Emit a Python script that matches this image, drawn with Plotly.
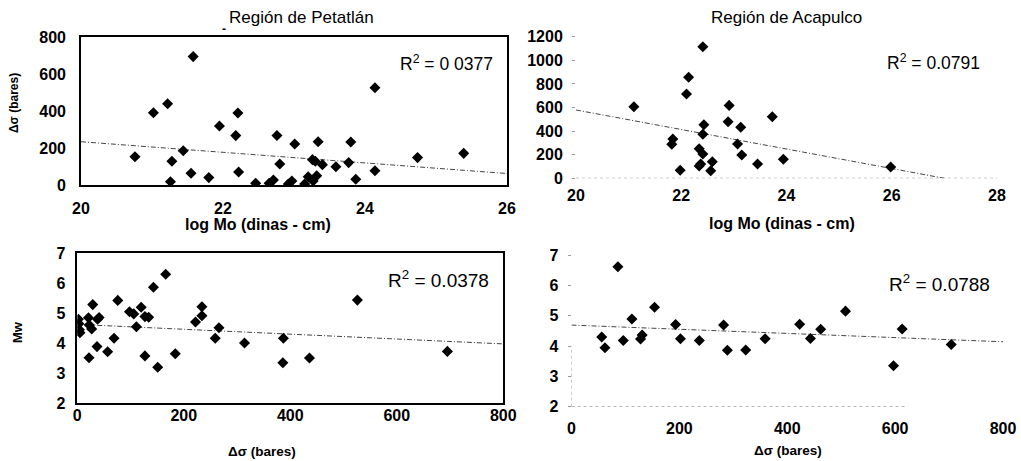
import plotly.graph_objects as go

# ---------------- data ----------------
# Región de Petatlán: log Mo vs Δσ
pet_logmo = [20.76, 21.02, 21.22, 21.28, 21.26, 21.44, 21.58, 21.55, 21.80, 21.95,
             22.21, 22.18, 22.22, 22.46, 22.65, 22.71, 22.76, 22.80, 22.92, 22.97,
             23.01, 23.15, 23.20, 23.26, 23.30, 23.27, 23.32, 23.34, 23.40, 23.59,
             23.77, 23.80, 23.87, 24.14, 24.14, 24.74, 25.39]
pet_dsigma = [153, 391, 439, 128, 18, 185, 694, 63, 40, 319,
              389, 267, 70, 9, 9, 27, 268, 114, 5, 22,
              222, 5, 45, 137, 128, 22, 50, 234, 110, 99,
              121, 232, 31, 526, 77, 148, 171]
pet_trend_x = [20, 26]
pet_trend_y = [234, 62]

# Región de Acapulco: log Mo vs Δσ
aca_logmo = [21.10, 21.84, 21.82, 21.98, 22.10, 22.14, 22.41, 22.43, 22.41, 22.34,
             22.41, 22.34, 22.37, 22.59, 22.56, 22.91, 22.89, 23.07, 23.13, 23.15,
             23.45, 23.73, 23.94, 25.98]
aca_dsigma = [607, 333, 288, 68, 714, 856, 1115, 454, 373, 251,
              206, 104, 121, 141, 64, 618, 480, 291, 432, 197,
              121, 522, 161, 96]
aca_trend_x = [20, 27]
aca_trend_y = [579, 0]

# Petatlán: Δσ vs Mw
pet_ds = [2, 3, 4, 5, 21, 22.5, 27, 29, 22, 38, 41, 37, 57, 69, 76, 98, 106, 111,
          120, 127, 127, 134, 143, 151, 166, 184, 222, 234, 234, 259, 266, 314,
          387, 386, 436, 526, 695]
pet_mw = [4.80, 4.65, 4.45, 4.35, 4.85, 4.61, 4.48, 5.29, 3.52, 4.80, 4.86, 3.89,
          3.72, 4.17, 5.43, 5.05, 4.98, 4.55, 5.20, 3.58, 4.89, 4.87, 5.87, 3.20,
          6.30, 3.65, 4.71, 4.92, 5.22, 4.17, 4.52, 4.01, 4.17, 3.35, 3.51, 5.44, 3.73]
pet_mw_trend_x = [0, 800]
pet_mw_trend_y = [4.63, 3.98]

# Acapulco: Δσ vs Mw
aca_ds = [56, 62, 86, 96, 112, 128, 131, 154, 193, 202, 237, 282, 289, 323, 359,
          423, 443, 462, 508, 597, 613, 704]
aca_mw = [4.30, 3.94, 6.61, 4.18, 4.89, 4.23, 4.36, 5.28, 4.71, 4.24, 4.18, 4.69,
          3.86, 3.87, 4.24, 4.72, 4.25, 4.55, 5.15, 3.35, 4.56, 4.05]
aca_mw_trend_x = [0, 800]
aca_mw_trend_y = [4.69, 4.14]

titles = ["Región de Petatlán", "Región de Acapulco"]
r2_labels = ["R<sup>2</sup> = 0 0377", "R<sup>2</sup> = 0.0791",
             "R<sup>2</sup> = 0.0378", "R<sup>2</sup> = 0.0788"]

# ---------------- layout helpers ----------------
W, H = 1021, 461
FONT = "Liberation Sans, Arial, sans-serif"


def fx(p):
    return p / W


def fy(p):
    return 1 - p / H


fig = go.Figure()

marker = dict(symbol="diamond", size=8.5, color="black")
trend_line = dict(color="#444444", width=1, dash="5px,2px,1px,2px")

series = [
    (pet_logmo, pet_dsigma, pet_trend_x, pet_trend_y, "x", "y"),
    (aca_logmo, aca_dsigma, aca_trend_x, aca_trend_y, "x2", "y2"),
    (pet_ds, pet_mw, pet_mw_trend_x, pet_mw_trend_y, "x3", "y3"),
    (aca_ds, aca_mw, aca_mw_trend_x, aca_mw_trend_y, "x4", "y4"),
]
for xs, ys, tx, ty, xa, ya in series:
    fig.add_trace(go.Scatter(x=tx, y=ty, mode="lines", line=trend_line,
                             xaxis=xa, yaxis=ya, showlegend=False, hoverinfo="skip"))
    fig.add_trace(go.Scatter(x=xs, y=ys, mode="markers", marker=marker,
                             xaxis=xa, yaxis=ya, showlegend=False))

tickfont = dict(family=FONT, size=16, color="black", weight="bold")


def axis(domain, rng, tickvals, anchor, boxed, standoff):
    d = dict(domain=domain, range=rng, tickvals=tickvals, anchor=anchor,
             showgrid=False, zeroline=False, tickfont=tickfont, fixedrange=True,
             automargin=False, ticklabelstandoff=standoff)
    if boxed:
        d.update(showline=True, mirror=True, linecolor="black", linewidth=1.6, ticks="")
    else:
        d.update(showline=False, ticks="")
    return d


fig.update_layout(
    template="none",
    width=W, height=H,
    margin=dict(l=0, r=0, t=0, b=0, pad=0),
    paper_bgcolor="white", plot_bgcolor="white",
    xaxis=axis([fx(81), fx(507)], [20, 26], [20, 22, 24, 26], "y", True, 8),
    yaxis=axis([fy(185), fy(37)], [0, 800], [0, 200, 400, 600, 800], "x", True, 10),
    xaxis2=axis([fx(576), fx(997)], [20, 28], [20, 22, 24, 26, 28], "y2", False, 6),
    yaxis2=axis([fy(178.3), fy(36.7)], [0, 1200], [0, 200, 400, 600, 800, 1000, 1200], "x2", False, 6),
    xaxis3=axis([fx(77.3), fx(503.3)], [0, 800], [0, 200, 400, 600, 800], "y3", True, -3),
    yaxis3=axis([fy(403.3), fy(253.3)], [2, 7], [2, 3, 4, 5, 6, 7], "x3", True, 7),
    xaxis4=axis([fx(571.5), fx(1003)], [0, 800], [0, 200, 400, 600, 800], "y4", False, 10),
    yaxis4=axis([fy(406.7), fy(255)], [2, 7], [2, 3, 4, 5, 6, 7], "x4", False, 6),
)
fig.update_layout(
    yaxis2=dict(ticks="outside", ticklen=3, tickcolor="#999999"),
    yaxis4=dict(ticks="outside", ticklen=3, tickcolor="#999999"),
)

# faint dotted axis lines of the unframed charts
fig.add_shape(type="line", xref="x2", yref="y2", x0=20, x1=28, y0=0, y1=0,
              line=dict(color="#888888", width=1, dash="dot"))
fig.add_shape(type="line", xref="x4", yref="y4", x0=0, x1=620, y0=2, y1=2,
              line=dict(color="#888888", width=1, dash="dot"))
fig.add_shape(type="line", xref="x4", yref="y4", x0=0, x1=0, y0=2, y1=4,
              line=dict(color="#999999", width=1, dash="dot"))

ann = []


def text(x, y, s, size=12, bold=True, angle=0, xanchor="center"):
    ann.append(dict(x=fx(x), y=fy(y), xref="paper", yref="paper", text=s,
                    showarrow=False, textangle=angle, xanchor=xanchor, yanchor="middle",
                    font=dict(family=FONT, size=size, color="black",
                              weight="bold" if bold else "normal")))


text(301, 17, titles[0], size=17, bold=False)
text(786, 17, titles[1], size=17, bold=False)
text(224, 29, "-", size=12)
text(258, 224, "log Mo (dinas - cm)", size=16)
text(782, 223, "log Mo (dinas - cm)", size=16)
text(262, 451, "Δσ (bares)", size=13.5)
text(788, 450, "Δσ (bares)", size=13.5)
text(14, 103, "Δσ (bares)", size=12, angle=-90)
text(17, 332, "Mw", size=13, angle=-90)

text(446, 63, r2_labels[0], size=17.5, bold=False)
text(933, 62, r2_labels[1], size=17.5, bold=False)
text(438, 279, r2_labels[2], size=19, bold=False)
text(939, 283, r2_labels[3], size=19, bold=False)

fig.update_layout(annotations=ann)

fig.write_html("out.html", config={"displayModeBar": False},
               post_script="document.body.style.margin='0px';")
